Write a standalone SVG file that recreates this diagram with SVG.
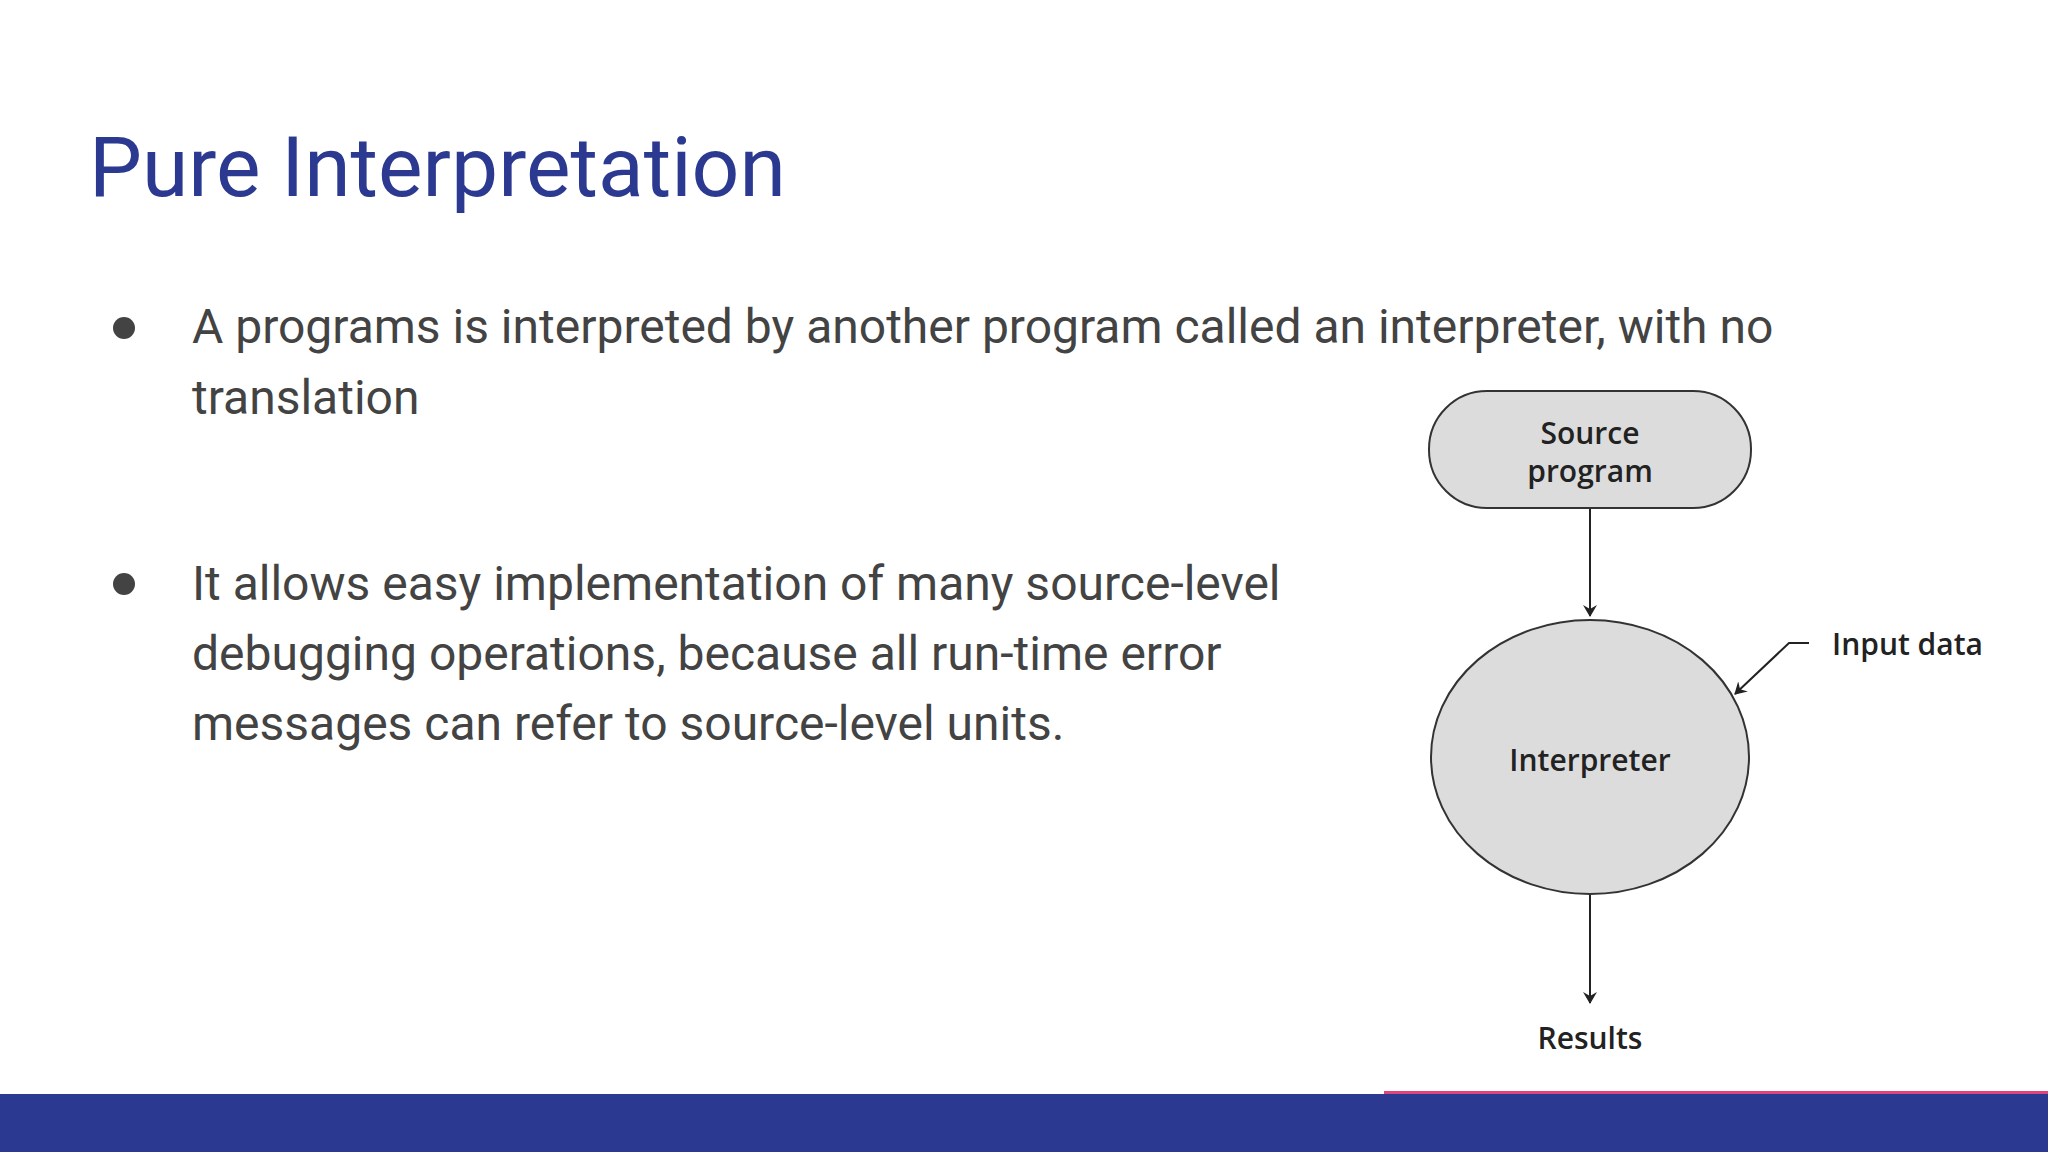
<svg xmlns="http://www.w3.org/2000/svg" width="2048" height="1152" viewBox="0 0 2048 1152">
<style>
.t{font-family:Roboto,"Liberation Sans",sans-serif;fill:#434343;font-size:48px}
.d{font-family:"Open Sans","Liberation Sans",sans-serif;fill:#222;font-size:30px;font-weight:600;text-anchor:middle}
.n{fill:#dcdcdd;stroke:#333;stroke-width:2}
.c{stroke:#222;stroke-width:2;fill:none;marker-end:url(#ah)}
</style>
<defs><marker id="ah" markerWidth="12" markerHeight="14" refX="11" refY="7" orient="auto" markerUnits="userSpaceOnUse"><path d="M0,0 L12,7 L0,14 L4,7 Z" fill="#222"/></marker></defs>
<rect width="2048" height="1152" fill="#fff"/>
<text x="89" y="196" style="font-family:Roboto,'Liberation Sans',sans-serif;font-size:84px;fill:#2b3990">Pure Interpretation</text>
<circle cx="124" cy="328" r="11" fill="#434343"/>
<circle cx="124" cy="584" r="11" fill="#434343"/>
<text class="t" x="192" y="343">A programs is interpreted by another program called an interpreter, with no</text>
<text class="t" x="192" y="414">translation</text>
<text class="t" x="192" y="600">It allows easy implementation of many source-level</text>
<text class="t" x="192" y="670">debugging operations, because all run-time error</text>
<text class="t" x="192" y="740">messages can refer to source-level units.</text>
<g id="source"><rect class="n" x="1429" y="391" width="322" height="117" rx="58"/><text class="d" x="1590" y="444">Source</text><text class="d" x="1590" y="482">program</text></g>
<g id="interpreter"><ellipse class="n" cx="1590" cy="757" rx="159" ry="137"/><text class="d" x="1590" y="771">Interpreter</text></g>
<g id="input"><text class="d" x="1832" y="655" style="text-anchor:start">Input data</text></g>
<g id="results"><text class="d" x="1590" y="1049">Results</text></g>
<g id="connectors">
<path class="c" d="M1590,509 L1590,616"/>
<path class="c" d="M1590,895 L1590,1003"/>
<path class="c" d="M1809,643 L1789,643 L1735,694"/>
</g>
<rect x="1384" y="1091" width="664" height="3" fill="#e0457b"/>
<rect x="0" y="1094" width="2048" height="58" fill="#2b3990"/>
</svg>
